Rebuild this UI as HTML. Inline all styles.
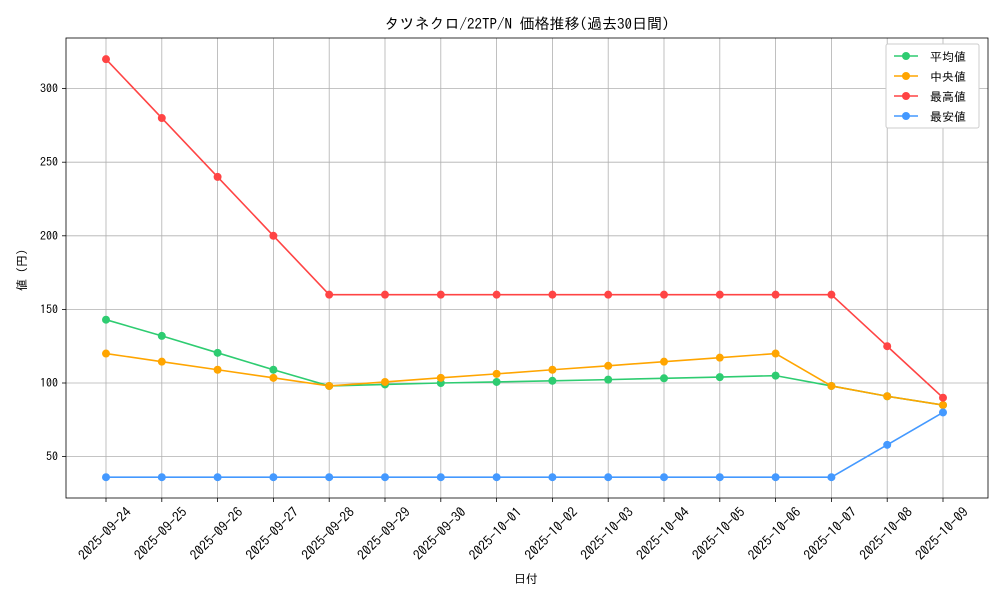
<!DOCTYPE html>
<html><head><meta charset="utf-8"><style>
body{margin:0;background:#fff}
svg text{font-family:"IPAGothic","Liberation Sans","Noto Sans CJK JP",sans-serif;fill:#000}
</style></head><body>
<svg width="1000" height="600" viewBox="0 0 1000 600" xmlns="http://www.w3.org/2000/svg">
<rect width="1000" height="600" fill="#fff"/>
<g id="grid" stroke="#b0b0b0" stroke-width="0.8"></g>
<rect x="66" y="38" width="922" height="460" fill="none" stroke="#000" stroke-width="0.8"/>
<g id="ticks"></g>
<g id="series"></g>
<text x="527" y="29" font-size="15" text-anchor="middle">タツネクロ/22TP/N 価格推移(過去30日間)</text>
<text x="526" y="583" font-size="12" text-anchor="middle">日付</text>
<text transform="translate(26,270) rotate(-90)" font-size="12" text-anchor="middle">値 (円)</text>
<g transform="translate(886,44)">
<rect x="0" y="0" width="93" height="84" fill="#fff" stroke="#ccc" rx="2"/>
<line x1="8" y1="12" x2="32" y2="12" stroke="#2ecc71" stroke-width="1.5"/><circle cx="20" cy="12" r="4" fill="#2ecc71"/><text x="44" y="17" font-size="12">平均値</text>
<line x1="8" y1="32" x2="32" y2="32" stroke="#ffa500" stroke-width="1.5"/><circle cx="20" cy="32" r="4" fill="#ffa500"/><text x="44" y="37" font-size="12">中央値</text>
<line x1="8" y1="52" x2="32" y2="52" stroke="#ff4444" stroke-width="1.5"/><circle cx="20" cy="52" r="4" fill="#ff4444"/><text x="44" y="57" font-size="12">最高値</text>
<line x1="8" y1="72" x2="32" y2="72" stroke="#4499ff" stroke-width="1.5"/><circle cx="20" cy="72" r="4" fill="#4499ff"/><text x="44" y="77" font-size="12">最安値</text>
</g>
</svg>
<script>
const ns="http://www.w3.org/2000/svg";
function el(p,t,a,txt){const e=document.createElementNS(ns,t);for(const k in a)e.setAttribute(k,a[k]);if(txt)e.textContent=txt;document.getElementById(p).appendChild(e);return e;}
const X=i=>106+i*55.8, Y=v=>383-(v-100)*1.472;
const dates=["2025-09-24","2025-09-25","2025-09-26","2025-09-27","2025-09-28","2025-09-29","2025-09-30","2025-10-01","2025-10-02","2025-10-03","2025-10-04","2025-10-05","2025-10-06","2025-10-07","2025-10-08","2025-10-09"];
dates.forEach((d,i)=>{const x=X(i);el("grid","line",{x1:x,y1:38,x2:x,y2:498});
el("ticks","line",{x1:x,y1:498,x2:x,y2:502,stroke:"#000","stroke-width":0.8});
el("ticks","text",{transform:`translate(${x+26},${513}) rotate(-45)`,"font-size":13.5,"text-anchor":"end"},d);});
[50,100,150,200,250,300].forEach(v=>{const y=Y(v);el("grid","line",{x1:66,y1:y,x2:988,y2:y});
el("ticks","line",{x1:62,y1:y,x2:66,y2:y,stroke:"#000","stroke-width":0.8});
el("ticks","text",{x:58,y:y+4,"font-size":12,"text-anchor":"end"},String(v));});
const S=[
["#2ecc71",[143,132,120.5,109,98,99,100,100.7,101.5,102.3,103.2,104,105,98,91,85]],
["#ffa500",[120,114.5,109,103.5,98,100.7,103.5,106.2,109,111.7,114.5,117.2,120,98,91,85]],
["#ff4444",[320,280,240,200,160,160,160,160,160,160,160,160,160,160,125,90]],
["#4499ff",[36,36,36,36,36,36,36,36,36,36,36,36,36,36,58,80]]];
S.forEach(([c,d])=>{el("series","polyline",{points:d.map((v,i)=>X(i)+","+Y(v)).join(" "),fill:"none",stroke:c,"stroke-width":1.6});
d.forEach((v,i)=>el("series","circle",{cx:X(i),cy:Y(v),r:4,fill:c}));});
</script>
</body></html>
